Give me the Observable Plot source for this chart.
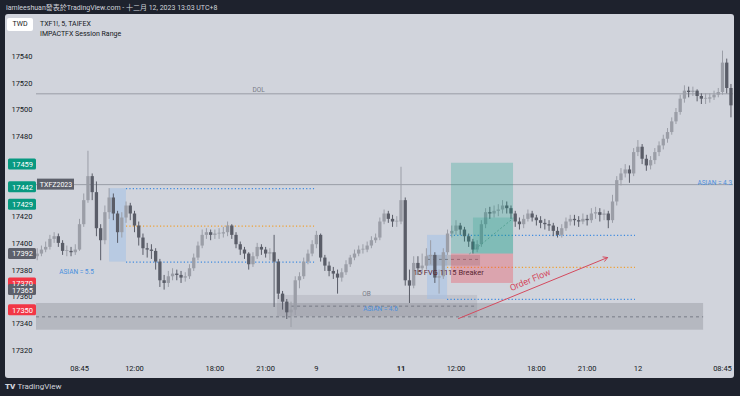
<!DOCTYPE html>
<html><head><meta charset="utf-8">
<script src="https://cdn.jsdelivr.net/npm/d3@7"></script>
<script src="https://cdn.jsdelivr.net/npm/@observablehq/plot@0.6"></script>
<style>
body{margin:0;background:#1e222d;}
#wrap{position:relative;width:740px;height:396px;overflow:hidden;background:#1e222d;font-family:Roboto,"Noto Sans CJK TC",sans-serif;}
#panel{position:absolute;left:5px;top:14px;width:729px;height:364px;background:#d1d4dc;border-radius:3px;}
#hdr{position:absolute;left:6px;top:2px;font-size:7px;color:#d1d4dc;white-space:nowrap;}
#twd{position:absolute;left:7px;top:18px;width:26px;height:13px;background:#fff;border-radius:2px;font-size:7px;color:#131722;text-align:center;line-height:13px;}
#leg{position:absolute;left:40px;top:20px;font-size:7px;color:#131722;line-height:9.5px;}
#foot{position:absolute;left:5px;top:382px;font-size:8px;color:#d1d4dc;white-space:nowrap;}
#foot b{font-weight:900;margin-right:2px;}
#chart{position:absolute;left:0;top:0;}
</style></head>
<body><div id="wrap">
<div id="panel"></div>
<div id="hdr">iamleeshuan發表於TradingView.com - 十二月 12, 2023 13:03 UTC+8</div>
<div id="twd">TWD</div>
<div id="leg">TXF1!, 5, TAIFEX<br>IMPACTFX Session Range</div>
<div id="foot"><b>TV</b>TradingView</div>
<div id="chart"></div>
</div>
<script>
// ---- data (15-minute candles, bar index = 5-min bars from Dec 8 08:45) ----
const firstIndex = -30;
const barStep = 3;
const firstOpen = 17390;
const closes = [17392,17395,17397,17403,17405,17400,17394,17394,17393,17395,
17414,17432,17450,17438,17411,17402,17423,17434,17422,17408,
17419,17428,17422,17413,17404,17396,17395,17394,17386,17372,
17370,17375,17377,17376,17374,17375,17381,17389,17398,17406,
17408,17406,17407,17407,17408,17413,17406,17399,17395,17392,
17384,17390,17397,17395,17392,17393,17386,17362,17356,17348,
17350,17372,17375,17386,17392,17399,17406,17389,17383,17379,
17377,17374,17378,17384,17389,17392,17395,17395,17398,17402,
17404,17416,17422,17418,17416,17416,17432,17372,17368,17385,
17381,17383,17390,17391,17374,17375,17393,17407,17409,17413,
17410,17405,17401,17395,17399,17414,17423,17422,17424,17425,
17428,17426,17422,17416,17414,17418,17422,17419,17417,17415,
17414,17413,17409,17406,17411,17416,17418,17417,17416,17418,
17417,17422,17423,17421,17422,17417,17431,17447,17452,17455,
17452,17468,17472,17463,17458,17462,17468,17473,17478,17483,
17491,17498,17508,17514,17513,17514,17510,17508,17508,17509,
17511,17513,17535,17516,17503];
const highs = [17396,17398,17401,17406,17408,17407,17402,17398,17397,17399,
17418,17437,17469,17452,17446,17414,17428,17441,17437,17424,
17423,17431,17430,17424,17416,17407,17400,17399,17396,17388,
17376,17379,17381,17380,17379,17378,17384,17392,17401,17410,
17411,17410,17410,17411,17412,17416,17414,17408,17401,17397,
17393,17393,17400,17399,17397,17396,17406,17388,17364,17358,
17356,17375,17378,17389,17395,17402,17409,17407,17391,17386,
17382,17380,17381,17387,17391,17395,17398,17399,17401,17405,
17407,17419,17425,17424,17421,17420,17457,17434,17380,17390,
17390,17392,17396,17402,17393,17380,17396,17410,17413,17417,
17415,17412,17407,17403,17402,17417,17426,17427,17428,17429,
17432,17431,17428,17424,17419,17421,17425,17424,17421,17420,
17418,17417,17415,17412,17414,17419,17421,17421,17420,17422,
17421,17426,17427,17426,17425,17424,17436,17450,17456,17459,
17458,17471,17477,17474,17466,17465,17471,17476,17481,17486,
17494,17501,17511,17518,17517,17517,17515,17512,17512,17512,
17514,17516,17544,17538,17519];
const lows = [17387,17390,17393,17395,17400,17397,17391,17390,17390,17391,
17394,17412,17430,17432,17405,17387,17399,17418,17417,17400,
17404,17415,17417,17408,17398,17391,17389,17388,17380,17367,
17365,17367,17372,17372,17370,17371,17373,17379,17387,17396,
17403,17402,17403,17403,17404,17405,17403,17396,17391,17388,
17380,17382,17388,17391,17389,17387,17352,17358,17350,17343,
17337,17346,17366,17373,17384,17390,17396,17386,17379,17375,
17373,17362,17371,17376,17382,17387,17390,17392,17393,17396,
17400,17402,17414,17415,17412,17412,17414,17368,17355,17366,
17376,17377,17380,17384,17370,17362,17373,17391,17404,17406,
17406,17401,17397,17392,17393,17397,17411,17418,17419,17420,
17422,17422,17418,17412,17410,17411,17416,17416,17413,17411,
17410,17409,17405,17404,17404,17409,17413,17413,17412,17414,
17413,17415,17418,17416,17417,17411,17415,17428,17443,17449,
17445,17450,17465,17459,17454,17455,17459,17465,17470,17475,
17481,17489,17496,17505,17509,17510,17506,17504,17504,17505,
17507,17509,17511,17512,17494];

const timeTicks = [0,39,96,132,168,228,267,324,360,396,456];
const timeLabels = ["08:45","12:00","18:00","21:00","9","11","12:00","18:00","21:00","12","08:45"];
const priceTicks = [17320,17340,17360,17380,17400,17420,17480,17500,17520,17540];

const badgePrices = [17459,17442,17429,17392,17370,17365,17350];
const badgeKinds  = ["up","up","up","last","down","last","down"];

const dolLevel = 17512;
const contractLevel = 17444;
const contractName = "TXFZ2023";

// session ranges: [boxStart, boxEnd, lineEnd, high, mid, low]
const asianSessions = [
  [21.3, 33.3, 166.7, 17441, 17413, 17386],
  [246.8, 261, 394.3, 17406, 17382, 17358]
];
const asianLabels = [["ASIAN = 5.5", -2.1, 17379], ["ASIAN = 4.6", 213.5, 17351]];
const asianLabelRight = ["ASIAN = 4.3", 462.8, 17445];
// zones: [x1, x2, top, bottom, mid]
const htfZone = [-30.5, 442.6, 17355, 17335, 17345];
const obZone = [140.4, 282.3, 17361, 17345, 17353];
const breakerZone = [246.8, 284.4, 17391, 17383, 17388];
// long position: [x1, xMid, x2, target, entry, stop, inner]
const longPos = [263.8, 279.4, 307.8, 17460, 17392, 17370, 17419];
const orderFlow = [268.8, 17343.7, 374.5, 17389.4];

// ---- build ----
const X_MIN = -30.5, X_MAX = 463.8;
const Y_MIN = 17312.3, Y_MAX = 17571.4;
const pxPerBar = 697 / (X_MAX - X_MIN);
const pxPerPt = 346 / (Y_MAX - Y_MIN);
const leftPx = px => X_MIN + (px - 36) / pxPerBar;

const candles = closes.map((c, i) => ({
  x: firstIndex + barStep * i,
  open: i ? closes[i - 1] : firstOpen,
  close: c, high: highs[i], low: lows[i]
}));
candles.forEach(d => d.up = d.close >= d.open);
const UP = "#9b9ea7", DOWN = "#5a5d68";

const badges = badgePrices.map((p, i) => ({price: p, kind: badgeKinds[i]}));
const badgeColor = {up: "#089981", down: "#f23645", last: "#5d606b"};
const bh = 5.5 / pxPerPt;

const sess = asianSessions.map(s => ({x1: s[0], x2: s[1], xe: s[2], hi: s[3], mid: s[4], lo: s[5]}));
const zone = z => [{x1: z[0], x2: z[1], y1: z[2], y2: z[3], m: z[4]}];

const chart = Plot.plot({
  width: 740, height: 396,
  marginLeft: 36, marginRight: 7, marginTop: 14, marginBottom: 36,
  x: {domain: [X_MIN, X_MAX], axis: null},
  y: {domain: [Y_MIN, Y_MAX], axis: null},
  style: {background: "transparent", fontFamily: "Roboto, 'Noto Sans CJK TC', sans-serif", fontSize: "7.5px", color: "#131722", overflow: "visible"},
  marks: [
    // zones
    Plot.rect(zone(htfZone), {x1: "x1", x2: "x2", y1: "y1", y2: "y2", fill: "#787b86", fillOpacity: 0.32}),
    Plot.rect(zone(obZone), {x1: "x1", x2: "x2", y1: "y1", y2: "y2", fill: "#787b86", fillOpacity: 0.18}),
    Plot.ruleY(zone(htfZone), {y: "m", x1: "x1", x2: "x2", stroke: "#6a6d78", strokeDasharray: "3,3", strokeWidth: 0.8}),
    Plot.ruleY(zone(obZone), {y: "m", x1: d => d.x1 + 10, x2: "x2", stroke: "#6a6d78", strokeDasharray: "3,3", strokeWidth: 0.8}),
    Plot.rect(sess, {x1: "x1", x2: "x2", y1: "hi", y2: "lo", fill: "#9fc0e8", fillOpacity: 0.5}),
    Plot.rect(zone(breakerZone), {x1: "x1", x2: "x2", y1: "y1", y2: "y2", fill: "#787b86", fillOpacity: 0.3}),
    Plot.ruleY(zone(breakerZone), {y: "m", x1: "x1", x2: "x2", stroke: "#6a6d78", strokeDasharray: "3,3", strokeWidth: 0.8}),
    // levels
    Plot.ruleY([dolLevel, contractLevel], {stroke: "#9a9da6", strokeWidth: 1}),
    Plot.ruleY(sess, {y: "hi", x1: "x2", x2: "xe", stroke: "#3d8ae0", strokeDasharray: "1.2,2.2", strokeWidth: 1.2}),
    Plot.ruleY(sess, {y: "mid", x1: "x2", x2: "xe", stroke: "#f0a030", strokeDasharray: "1.2,2.2", strokeWidth: 1.2}),
    Plot.ruleY(sess, {y: "lo", x1: "x2", x2: "xe", stroke: "#3d8ae0", strokeDasharray: "1.2,2.2", strokeWidth: 1.2}),
    // candles
    Plot.ruleX(candles, {x: "x", y1: "low", y2: "high", stroke: d => d.up ? UP : DOWN, strokeWidth: 1}),
    Plot.ruleX(candles, {x: "x", y1: "open", y2: d => d.close === d.open ? d.close + 0.6 : d.close, stroke: d => d.up ? UP : DOWN, strokeWidth: 3.3}),
    // long position tool
    Plot.rect([longPos], {x1: d => d[0], x2: d => d[2], y1: d => d[3], y2: d => d[4], fill: "#089981", fillOpacity: 0.25}),
    Plot.rect([longPos], {x1: d => d[1], x2: d => d[2], y1: d => d[6], y2: d => d[4], fill: "#089981", fillOpacity: 0.2}),
    Plot.rect([longPos], {x1: d => d[0], x2: d => d[2], y1: d => d[4], y2: d => d[5], fill: "#f23645", fillOpacity: 0.3}),
    Plot.link([longPos], {x1: d => d[1] - 3, y1: d => d[4], x2: d => d[2], y2: d => d[6], stroke: "#4a9a8c", strokeDasharray: "2,2", strokeWidth: 0.8}),
    // order flow
    Plot.arrow([orderFlow], {x1: d => d[0], y1: d => d[1], x2: d => d[2], y2: d => d[3], stroke: "#d44a5e", strokeWidth: 1, headLength: 7, bend: 0}),
    Plot.text([orderFlow], {x: d => (d[0] + d[2]) / 2 - 2, y: d => (d[1] + d[3]) / 2 + 6, text: () => "Order Flow", rotate: -23, fill: "#d44a5e", fontSize: 9}),
    // labels
    Plot.text([dolLevel], {x: 127, y: d => d, text: () => "DOL", dy: -4, fill: "#787b86", fontSize: 6.5}),
    Plot.text(asianLabels, {x: d => d[1], y: d => d[2], text: d => d[0], fill: "#4a8fde", fontSize: 6.5}),
    Plot.text([asianLabelRight], {x: d => d[1], y: d => d[2], text: d => d[0], fill: "#4a8fde", fontSize: 6.5, textAnchor: "end"}),
    Plot.text([obZone], {x: 203.5, y: d => d[2] + 1.5, text: () => "OB", fill: "#787b86", fontSize: 6.5}),
    Plot.text([breakerZone], {x: 236.9, y: d => d[3] - 4.5, text: () => "15 FVG 1115 Breaker", fill: "#5a2632", fontSize: 7.5, textAnchor: "start"}),
    // contract label
    Plot.rect([contractLevel], {x1: leftPx(37), x2: leftPx(74), y1: d => d - bh, y2: d => d + bh, fill: "#5d606b"}),
    Plot.text([contractLevel], {x: (leftPx(37) + leftPx(74)) / 2, y: d => d, text: () => contractName, fill: "#ffffff", fontSize: 7}),
    // price axis
    Plot.text(priceTicks, {y: d => d, text: d => String(d), frameAnchor: "left", dx: -4, textAnchor: "end", fill: "#131722", fontSize: 7.5}),
    Plot.rect(badges, {x1: leftPx(8), x2: leftPx(36), y1: d => d.price - bh, y2: d => d.price + bh, fill: d => badgeColor[d.kind], rx: 1.5}),
    Plot.text(badges, {y: "price", text: d => String(d.price), frameAnchor: "left", dx: -14, textAnchor: "middle", fill: "#ffffff", fontSize: 7.5}),
    // time axis
    Plot.text(timeTicks.filter((t, i) => timeLabels[i] !== "11"), {x: d => d, text: d => timeLabels[timeTicks.indexOf(d)], frameAnchor: "bottom", dy: 10, fill: "#131722", fontSize: 7.5}),
    Plot.text(timeTicks.filter((t, i) => timeLabels[i] === "11"), {x: d => d, text: d => timeLabels[timeTicks.indexOf(d)], frameAnchor: "bottom", dy: 10, fill: "#131722", fontSize: 7.5, fontWeight: "bold"})
  ]
});
document.getElementById("chart").append(chart);
</script>
</body></html>
